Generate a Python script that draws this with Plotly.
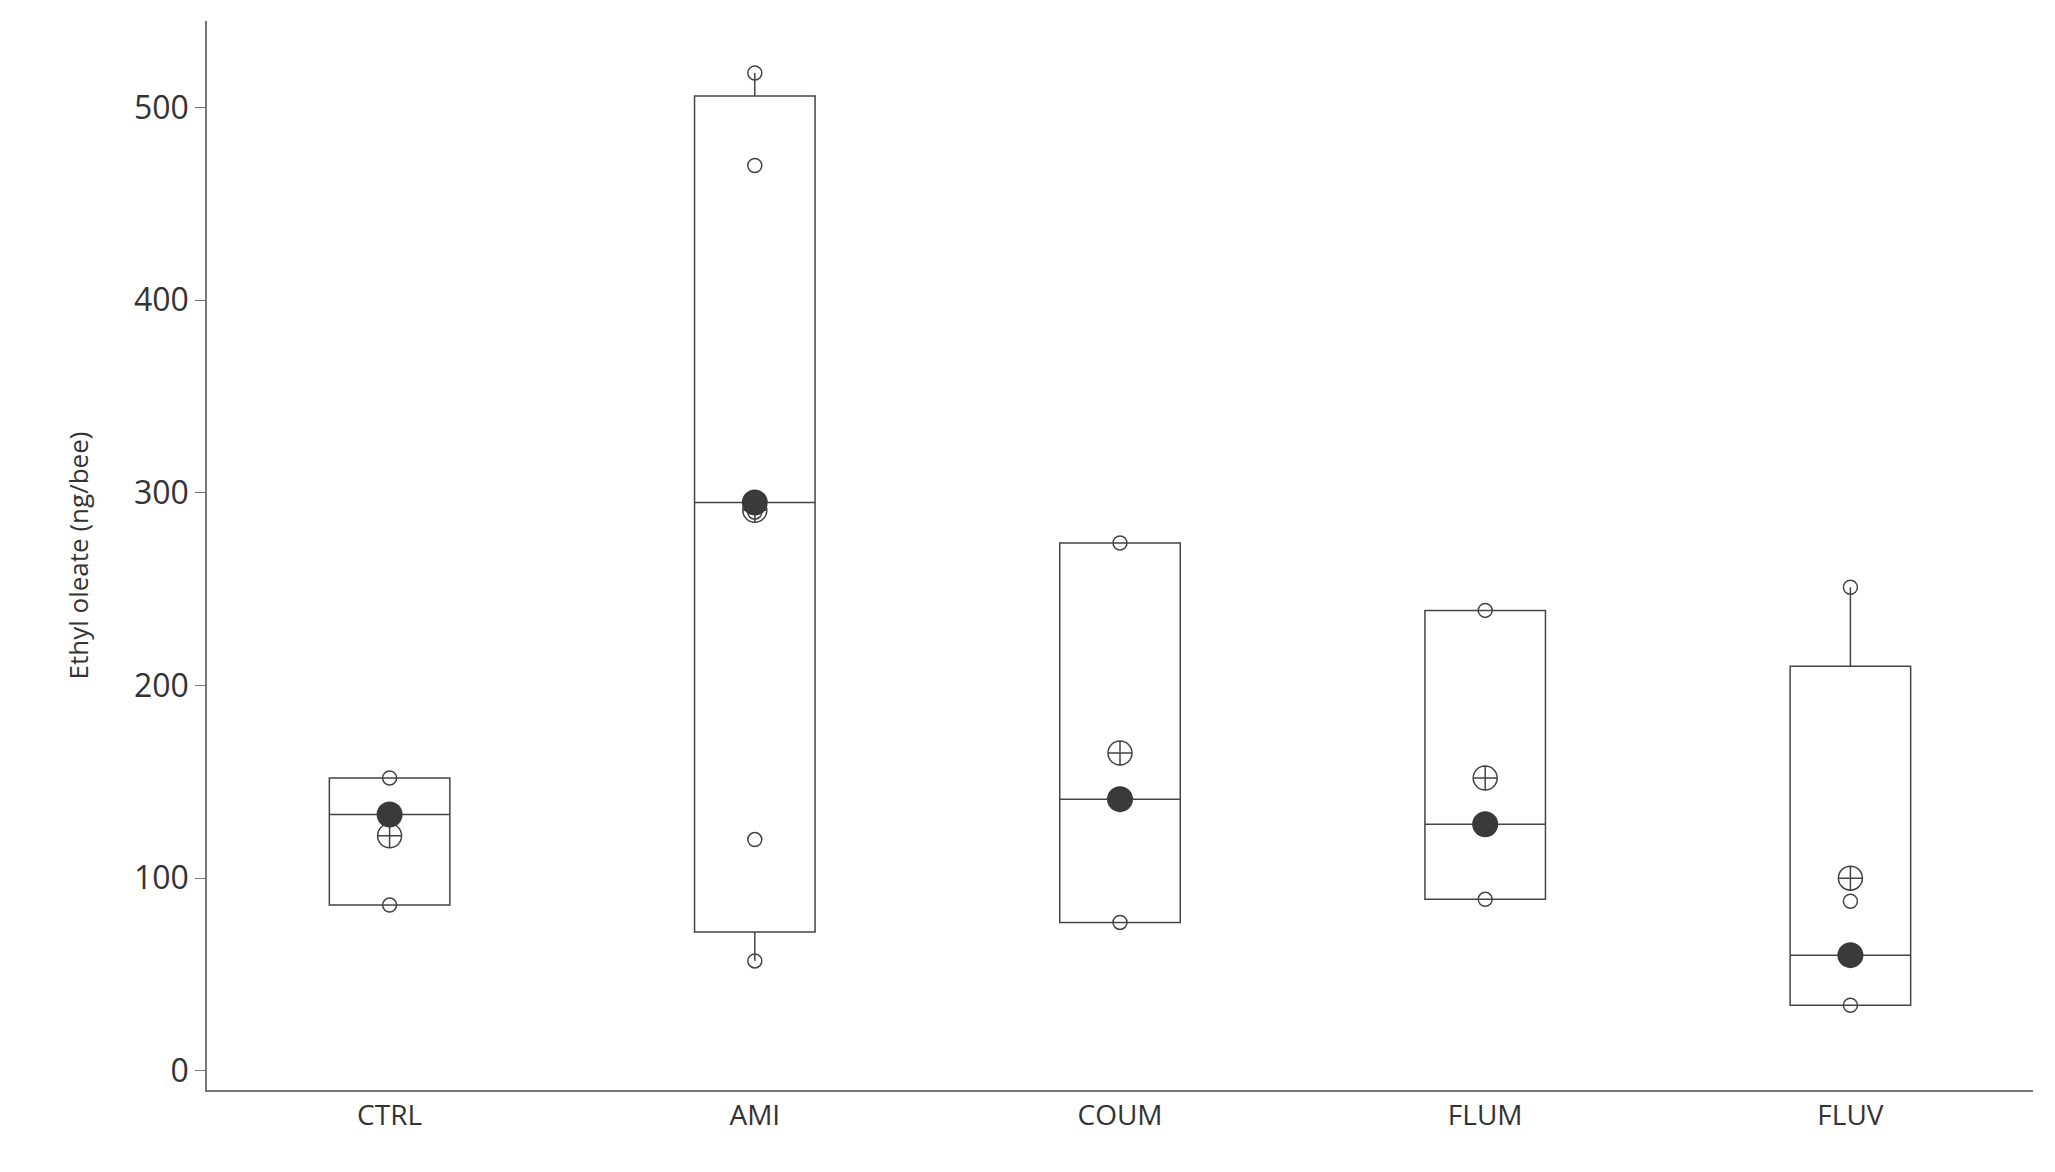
import plotly.graph_objects as go

groups = ["CTRL", "AMI", "COUM", "FLUM", "FLUV"]
q1 = [86, 72, 77, 89, 34]
median = [133, 295, 141, 128, 60]
q3 = [152, 506, 274, 239, 210]
lower = [86, 57, 77, 89, 34]
upper = [152, 518, 274, 239, 251]
means = [122, 291, 165, 152, 100]

pts_x = ["CTRL", "CTRL", "AMI", "AMI", "AMI", "AMI", "AMI",
         "COUM", "COUM", "FLUM", "FLUM", "FLUV", "FLUV", "FLUV"]
pts_y = [152, 86, 518, 470, 290, 120, 57, 274, 77, 239, 89, 251, 88, 34]

col = "#444444"
fig = go.Figure()
fig.add_trace(go.Box(
    x=groups, q1=q1, median=median, q3=q3, lowerfence=lower, upperfence=upper,
    fillcolor="rgba(0,0,0,0)", line=dict(color=col, width=1.5),
    width=0.33, boxpoints=False, whiskerwidth=0,
))
fig.add_trace(go.Scatter(
    x=pts_x, y=pts_y, mode="markers",
    marker=dict(symbol="circle-open", size=14, color=col, line=dict(width=1.5)),
))
fig.add_trace(go.Scatter(
    x=groups, y=means, mode="markers",
    marker=dict(symbol="circle-cross-open", size=24, color=col, line=dict(width=1.5)),
))
fig.add_trace(go.Scatter(
    x=groups, y=median, mode="markers",
    marker=dict(symbol="circle", size=26, color="#3a3a3a"),
))

fig.update_layout(
    width=2055, height=1172, showlegend=False,
    plot_bgcolor="white", paper_bgcolor="white",
    margin=dict(l=199, r=30, t=13, b=90),
    font=dict(family="Open Sans, Liberation Sans", size=28, color="#333333"),
)
fig.update_xaxes(showline=True, linecolor="#777777", linewidth=1.5, showgrid=False,
                 range=[-0.5, 4.5], ticks="", tickfont=dict(size=28))
fig.update_yaxes(showline=True, linecolor="#777777", linewidth=1.5, showgrid=False,
                 range=[-10, 545], tickvals=[0, 100, 200, 300, 400, 500],
                 ticks="outside", ticklen=10, tickcolor="#777777", zeroline=False,
                 title=dict(text="Ethyl oleate (ng/bee)", font=dict(size=26), standoff=38),
                 tickfont=dict(size=32))
fig.write_html("out.html")
